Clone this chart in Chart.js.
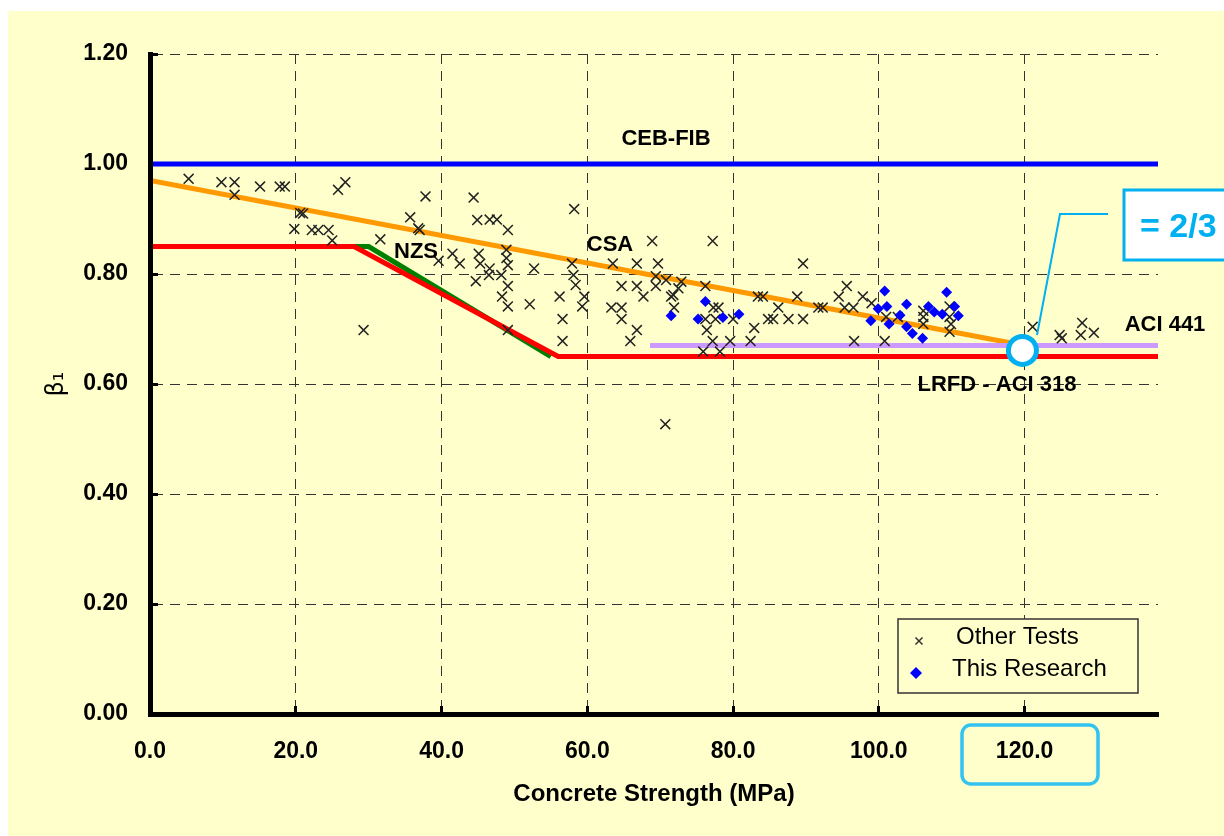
<!DOCTYPE html>
<html>
<head>
<meta charset="utf-8">
<script src="https://cdn.jsdelivr.net/npm/chart.js@4.4.1/dist/chart.umd.min.js"></script>
<style>
  html, body { margin: 0; padding: 0; background: #fff; }
  canvas { display: block; }
</style>
</head>
<body>
<canvas id="beta1Chart" width="1224" height="836"></canvas>
<script>
// Other tests (x = f'c in MPa, y = beta1)
const otherX = [5.3, 9.8, 11.6, 11.6, 15.1, 17.8, 18.5, 25.8, 26.8, 20.6, 21.0, 19.8, 22.2, 23.1, 24.5, 25.0,
  29.3, 31.6, 35.7, 36.8, 37.0, 37.8, 39.6, 41.5, 42.5, 44.4, 44.9, 46.6, 47.6, 49.1, 45.1, 45.3, 46.6, 46.5,
  48.2, 48.9, 48.9, 49.1, 52.7, 44.7, 49.1, 48.3, 49.1, 52.1, 49.1, 58.2, 57.9, 58.1, 58.4, 59.6, 59.3, 56.2,
  56.6, 56.6, 68.9, 77.2, 89.6, 63.5, 66.8, 69.7, 64.7, 66.8, 69.4, 69.4, 70.8, 72.9, 72.5, 67.7, 71.5, 71.8,
  71.9, 63.3, 64.7, 64.7, 66.8, 65.9, 76.2, 77.3, 78.0, 76.2, 77.6, 76.4, 80.0, 77.2, 79.6, 75.9, 78.2, 82.4,
  82.9, 83.4, 84.1, 84.8, 85.5, 86.2, 87.6, 89.6, 88.8, 91.7, 92.3, 94.5, 95.6, 95.3, 96.5, 97.8, 99.0, 96.6,
  100.8, 101.0, 102.6, 106.1, 106.1, 106.1, 109.7, 109.7, 109.9, 109.7, 121.1, 124.8, 125.1, 127.9, 127.7,
  129.5, 70.7];
const otherY = [0.973, 0.967, 0.967, 0.944, 0.959, 0.959, 0.959, 0.953, 0.967, 0.911, 0.910, 0.882, 0.880, 0.880,
  0.880, 0.861, 0.698, 0.863, 0.903, 0.883, 0.880, 0.941, 0.824, 0.837, 0.819, 0.939, 0.898, 0.899, 0.899,
  0.880, 0.837, 0.819, 0.810, 0.798, 0.798, 0.844, 0.829, 0.816, 0.810, 0.787, 0.778, 0.759, 0.741, 0.745,
  0.698, 0.918, 0.819, 0.798, 0.780, 0.759, 0.741, 0.759, 0.718, 0.678, 0.860, 0.860, 0.819, 0.819, 0.819,
  0.819, 0.778, 0.778, 0.796, 0.778, 0.789, 0.786, 0.774, 0.759, 0.759, 0.762, 0.739, 0.739, 0.739, 0.718,
  0.698, 0.678, 0.778, 0.739, 0.739, 0.718, 0.718, 0.698, 0.718, 0.678, 0.678, 0.659, 0.659, 0.678, 0.702,
  0.759, 0.759, 0.718, 0.718, 0.739, 0.718, 0.718, 0.759, 0.739, 0.739, 0.759, 0.778, 0.739, 0.739, 0.759,
  0.747, 0.678, 0.678, 0.722, 0.722, 0.733, 0.722, 0.709, 0.741, 0.722, 0.709, 0.695, 0.704, 0.689, 0.683,
  0.711, 0.689, 0.693, 0.527];

// This research
const researchX = [71.5, 76.2, 75.2, 78.6, 80.8, 100.8, 99.9, 101.1, 98.9, 101.4, 103.8, 102.9, 103.8, 104.6,
  106.0, 106.8, 107.6, 108.7, 109.3, 110.4, 110.9];
const researchY = [0.724, 0.750, 0.718, 0.721, 0.727, 0.769, 0.737, 0.741, 0.715, 0.709, 0.745, 0.725, 0.704,
  0.692, 0.683, 0.741, 0.731, 0.727, 0.767, 0.741, 0.724];

// Code provisions
const cebX = [0, 138.3];
const cebY = [1.0, 1.0];
const csaX = [0, 120];
const csaY = [0.97, 0.67];
const lrfdX = [0, 28, 56, 138.3];
const lrfdY = [0.85, 0.85, 0.65, 0.65];
const nzsX = [0, 30, 55];
const nzsY = [0.85, 0.85, 0.65];
const aci441X = [68.6, 138.3];
const aci441Y = [0.67, 0.67];
const markX = [119.7];
const markY = [0.661];

const xTicksMax = 138.3;

function pts(xs, ys) {
    return xs.map((x, i) => ({ x: x, y: ys[i] }));
}

function lineSet(label, xs, ys, color) {
    return {
        label: label,
        data: pts(xs, ys),
        showLine: true,
        borderColor: color,
        backgroundColor: color,
        borderWidth: 5,
        pointRadius: 0,
        borderCapStyle: 'butt',
        borderJoinStyle: 'miter'
    };
}

const BOLD = '"Liberation Sans", Arial, sans-serif';

const decorations = {
    id: 'decorations',
    beforeDraw(chart) {
        const ctx = chart.ctx;
        ctx.save();
        ctx.fillStyle = '#ffffff';
        ctx.fillRect(0, 0, chart.width, chart.height);
        ctx.fillStyle = '#FFFFCC';
        ctx.fillRect(8, 11, chart.width - 8, chart.height - 11);
        ctx.restore();
    },
    afterDatasetsDraw(chart) {
        const ctx = chart.ctx;
        ctx.save();
        ctx.fillStyle = '#000';
        ctx.textAlign = 'center';
        ctx.textBaseline = 'middle';
        ctx.font = 'bold 22px ' + BOLD;
        ctx.fillText('CEB-FIB', 666, 139);
        ctx.fillText('CSA', 610, 245);
        ctx.fillText('NZS', 416, 252);
        ctx.fillText('ACI 441', 1165, 325);
        ctx.fillText('LRFD - ACI 318', 997, 385);

        // legend
        ctx.fillStyle = '#FFFFCC';
        ctx.fillRect(898, 619, 240, 74);
        ctx.strokeStyle = '#333';
        ctx.lineWidth = 1.5;
        ctx.strokeRect(898, 619, 240, 74);
        Chart.helpers.drawPoint(ctx, { pointStyle: 'crossRot', radius: 5, borderWidth: 1.2 }, 919, 641);
        ctx.strokeStyle = '#333';
        ctx.fillStyle = '#0000FF';
        Chart.helpers.drawPoint(ctx, { pointStyle: 'rectRot', radius: 6, borderWidth: 0 }, 916, 673);
        ctx.fillStyle = '#000';
        ctx.textAlign = 'left';
        ctx.font = '24px ' + BOLD;
        ctx.fillText('Other Tests', 956, 637);
        ctx.fillText('This Research', 952, 669);
        ctx.restore();
    },
    afterDraw(chart) {
        const ctx = chart.ctx;
        ctx.save();
        // callout
        ctx.strokeStyle = '#00B0F0';
        ctx.lineWidth = 2;
        ctx.beginPath();
        ctx.moveTo(1037, 335);
        ctx.lineTo(1060, 214);
        ctx.lineTo(1108, 214);
        ctx.stroke();
        ctx.fillStyle = '#ffffff';
        ctx.fillRect(1124, 190, 110, 70);
        ctx.lineWidth = 3;
        ctx.strokeRect(1124, 190, 110, 70);
        ctx.fillStyle = '#00B0F0';
        ctx.font = 'bold 34px ' + BOLD;
        ctx.textAlign = 'left';
        ctx.textBaseline = 'middle';
        ctx.fillText('= 2/3', 1140, 228);

        // box around the 120.0 tick label
        ctx.strokeStyle = '#33C3F0';
        ctx.lineWidth = 3.5;
        ctx.beginPath();
        ctx.roundRect(962, 725, 136, 59, 9);
        ctx.stroke();
        ctx.restore();
    }
};

const ctx = document.getElementById('beta1Chart');
window.beta1Chart = new Chart(ctx, {
    type: 'scatter',
    data: {
        datasets: [
            {
                label: 'β1 = 2/3',
                data: pts(markX, markY),
                pointStyle: 'circle',
                pointRadius: 14,
                borderWidth: 5,
                borderColor: '#00B0F0',
                backgroundColor: '#ffffff'
            },
            {
                label: 'This Research',
                data: pts(researchX, researchY),
                pointStyle: 'rectRot',
                pointRadius: 5.5,
                borderWidth: 0,
                backgroundColor: '#0000FF',
                borderColor: '#0000FF'
            },
            {
                label: 'Other Tests',
                data: pts(otherX, otherY),
                pointStyle: 'crossRot',
                pointRadius: 7,
                borderWidth: 1.5,
                borderColor: '#222222',
                backgroundColor: '#222222'
            },
            lineSet('LRFD - ACI 318', lrfdX, lrfdY, '#FF0000'),
            lineSet('NZS', nzsX, nzsY, '#008000'),
            lineSet('ACI 441', aci441X, aci441Y, '#CC99FF'),
            lineSet('CSA', csaX, csaY, '#FF9900'),
            lineSet('CEB-FIB', cebX, cebY, '#0000FF')
        ]
    },
    options: {
        responsive: false,
        animation: false,
        events: [],
        layout: { padding: { top: 54, right: 66, left: 0, bottom: 0 } },
        plugins: {
            legend: { display: false },
            tooltip: { enabled: false }
        },
        scales: {
            x: {
                type: 'linear',
                min: 0,
                max: xTicksMax,
                afterFit: (scale) => { scale.height = 122; },
                ticks: {
                    stepSize: 20,
                    includeBounds: false,
                    padding: 32,
                    color: '#000',
                    font: { family: BOLD, size: 23, weight: 'bold' },
                    callback: (v) => v.toFixed(1)
                },
                grid: {
                    color: '#333',
                    lineWidth: 1,
                    tickLength: -8,
                    tickWidth: 3,
                    tickColor: '#000'
                },
                border: { display: true, color: '#000', width: 5, dash: [10, 7], z: 1 },
                title: {
                    display: true,
                    text: 'Concrete Strength (MPa)',
                    color: '#000',
                    font: { family: BOLD, size: 24, weight: 'bold' },
                    padding: { top: 0, bottom: 27 }
                }
            },
            y: {
                min: 0,
                max: 1.2,
                afterFit: (scale) => { scale.width = 150; },
                ticks: {
                    stepSize: 0.2,
                    padding: 30,
                    color: '#000',
                    font: { family: BOLD, size: 23, weight: 'bold' },
                    callback: (v) => v.toFixed(2)
                },
                grid: {
                    color: '#333',
                    lineWidth: 1,
                    tickLength: -8,
                    tickWidth: 3,
                    tickColor: '#000'
                },
                border: { display: true, color: '#000', width: 5, dash: [10, 7], z: 1 },
                title: {
                    display: true,
                    text: 'β₁',
                    color: '#000',
                    font: { family: '"DejaVu Sans", sans-serif', size: 24 },
                    padding: { top: 42, bottom: 0 }
                }
            }
        }
    },
    plugins: [decorations]
});
</script>
</body>
</html>
